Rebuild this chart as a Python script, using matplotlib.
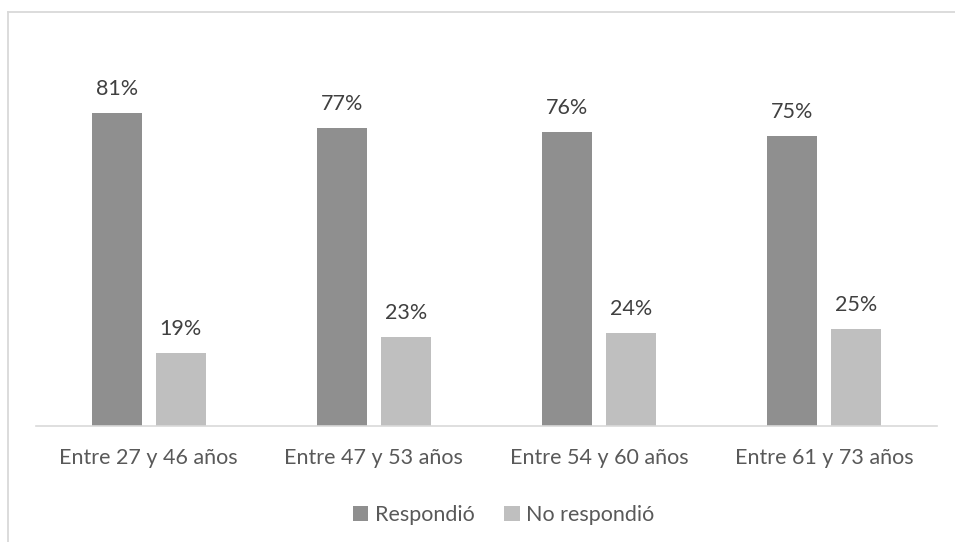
import matplotlib.pyplot as plt
import numpy as np
from matplotlib.lines import Line2D

categories = ["Entre 27 y 46 años", "Entre 47 y 53 años", "Entre 54 y 60 años", "Entre 61 y 73 años"]
respondio = [81, 77, 76, 75]
no_respondio = [19, 23, 24, 25]
series_names = ["Respondió", "No respondió"]

plt.rcParams['font.family'] = ['Lato', 'DejaVu Sans']

W, H = 955, 542
fig = plt.figure(figsize=(W / 100, H / 100), dpi=100)

# axes box in pixel coordinates: x 36..937, baseline at y=426, 90% at y=78
ax = fig.add_axes([36 / W, 1 - 426 / H, (937 - 36) / W, (426 - 78) / H])

x = np.arange(len(categories))
width = 0.222
off = 0.142
dark = "#8f8f8f"
light = "#bfbfbf"
fs = 15.5

b1 = ax.bar(x - off, respondio, width, color=dark, label=series_names[0])
b2 = ax.bar(x + off, no_respondio, width, color=light, label=series_names[1])

for bars, vals in ((b1, respondio), (b2, no_respondio)):
    for rect, v in zip(bars, vals):
        ax.annotate(f"{v}%", (rect.get_x() + rect.get_width() / 2, v),
                    xytext=(0, 10), textcoords="offset points",
                    ha="center", va="bottom", fontsize=fs, color="#404040")

ax.set_xlim(-0.5, len(categories) - 0.5)
ax.set_ylim(0, 90)
ax.set_yticks([])
ax.set_xticks(x)
ax.set_xticklabels(categories, fontsize=fs, color="#595959")
ax.tick_params(axis="x", length=0, pad=16)
for side in ("left", "right", "top"):
    ax.spines[side].set_visible(False)
ax.spines["bottom"].set_color("#d9d9d9")
ax.spines["bottom"].set_linewidth(1.2)

ax.legend(loc="center", bbox_to_anchor=(0.519, -0.255), ncol=2, frameon=False,
          fontsize=fs, labelcolor="#595959", handlelength=0.7, handleheight=0.7,
          handletextpad=0.3, columnspacing=1.4)

# outer chart border (left and top edges)
fig.add_artist(Line2D([7.5 / W, 7.5 / W], [0, 1 - 12 / H], transform=fig.transFigure,
                      color="#d9d9d9", lw=1.3))
fig.add_artist(Line2D([7.5 / W, 1], [1 - 12 / H, 1 - 12 / H], transform=fig.transFigure,
                      color="#d9d9d9", lw=1.3))

fig.savefig("out.png", dpi=100)
